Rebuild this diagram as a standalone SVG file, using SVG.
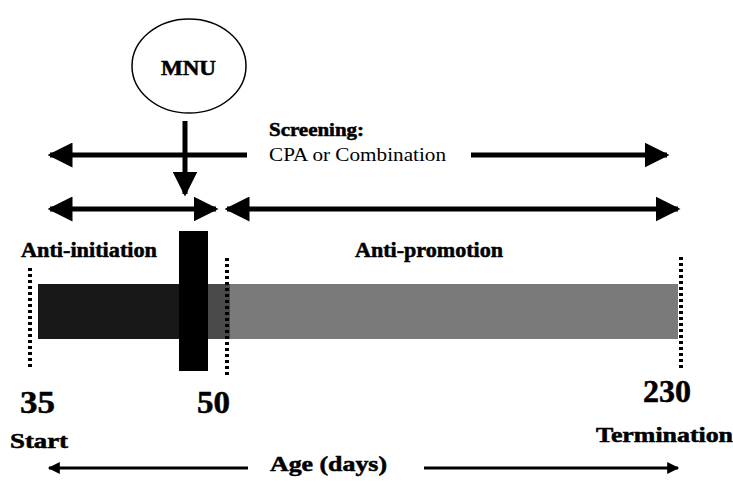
<svg xmlns="http://www.w3.org/2000/svg" width="733" height="482" viewBox="0 0 733 482">
<defs>
<style>
.thick{stroke:#000;stroke-width:5;fill:none}
.thin{stroke:#000;stroke-width:3;fill:none}
.dot{stroke:#000;stroke-width:4;stroke-dasharray:3 3;fill:none}
.hv{stroke:#000;stroke-width:0.5}
</style>
<marker id="big" viewBox="0 0 10 10" refX="9" refY="5" markerWidth="5" markerHeight="5" orient="auto-start-reverse" markerUnits="strokeWidth">
<path d="M0,0 L10,5 L0,10 Z" fill="#000"/>
</marker>
<marker id="small" viewBox="0 0 10 10" refX="9" refY="5" markerWidth="5" markerHeight="4" orient="auto-start-reverse" markerUnits="strokeWidth">
<path d="M0,0 L10,5 L0,10 Z" fill="#000"/>
</marker>
</defs>
<rect width="733" height="482" fill="#fff"/>

<g id="timeline-bar">
<rect x="38" y="284" width="142" height="55" fill="#181818"/>
<rect x="206" y="284" width="26" height="55" fill="#4a4a4a"/>
<rect x="230" y="284" width="448" height="55" fill="#7a7a7a"/>
</g>

<g id="mnu-bar">
<rect x="179" y="231" width="29" height="140" fill="#000"/>
</g>

<g id="markers">
<line class="dot" x1="30" y1="268" x2="30" y2="367"/>
<line class="dot" x1="227" y1="258" x2="227" y2="378"/>
<line class="dot" x1="681" y1="257" x2="681" y2="368"/>
</g>

<g id="mnu">
<ellipse cx="189" cy="66" rx="57" ry="47" fill="#fff" stroke="#000" stroke-width="1.5"/>
<text class="hv" x="161" y="75" font-size="20" font-weight="bold" style="font-family:'Liberation Serif', serif" textLength="55" lengthAdjust="spacingAndGlyphs">MNU</text>
</g>

<g id="connectors">
<line class="thick" x1="185" y1="121" x2="185" y2="194" marker-end="url(#big)"/>
<line class="thick" x1="247" y1="155" x2="50" y2="155" marker-end="url(#big)"/>
<line class="thick" x1="471" y1="155" x2="667" y2="155" marker-end="url(#big)"/>
<line class="thick" x1="50" y1="209" x2="216" y2="209" marker-start="url(#big)" marker-end="url(#big)"/>
<line class="thick" x1="227" y1="209" x2="678" y2="209" marker-start="url(#big)" marker-end="url(#big)"/>
<line class="thin" x1="248" y1="468" x2="49" y2="468" marker-end="url(#small)"/>
<line class="thin" x1="424" y1="468" x2="678" y2="468" marker-end="url(#small)"/>
</g>

<g id="labels">
<text class="hv" x="269" y="136" font-size="18" font-weight="bold" style="font-family:'Liberation Serif', serif" textLength="95" lengthAdjust="spacingAndGlyphs">Screening:</text>
<text x="269" y="161" font-size="19" style="font-family:'Liberation Serif', serif" textLength="177" lengthAdjust="spacingAndGlyphs">CPA or Combination</text>
<text class="hv" x="21" y="257" font-size="20" font-weight="bold" style="font-family:'Liberation Serif', serif" textLength="136" lengthAdjust="spacingAndGlyphs">Anti-initiation</text>
<text class="hv" x="355" y="257" font-size="20" font-weight="bold" style="font-family:'Liberation Serif', serif" textLength="148" lengthAdjust="spacingAndGlyphs">Anti-promotion</text>
<text class="hv" x="20" y="413" font-size="31" font-weight="bold" style="font-family:'Liberation Serif', serif" textLength="35" lengthAdjust="spacingAndGlyphs">35</text>
<text class="hv" x="197" y="413" font-size="31" font-weight="bold" style="font-family:'Liberation Serif', serif" textLength="33" lengthAdjust="spacingAndGlyphs">50</text>
<text class="hv" x="643" y="402" font-size="31" font-weight="bold" style="font-family:'Liberation Serif', serif" textLength="48" lengthAdjust="spacingAndGlyphs">230</text>
<text class="hv" x="10" y="448" font-size="20" font-weight="bold" style="font-family:'Liberation Serif', serif" textLength="58" lengthAdjust="spacingAndGlyphs">Start</text>
<text class="hv" x="596" y="442" font-size="20" font-weight="bold" style="font-family:'Liberation Serif', serif" textLength="137" lengthAdjust="spacingAndGlyphs">Termination</text>
<text class="hv" x="270" y="471" font-size="20" font-weight="bold" style="font-family:'Liberation Serif', serif" textLength="117" lengthAdjust="spacingAndGlyphs">Age (days)</text>
</g>
</svg>
